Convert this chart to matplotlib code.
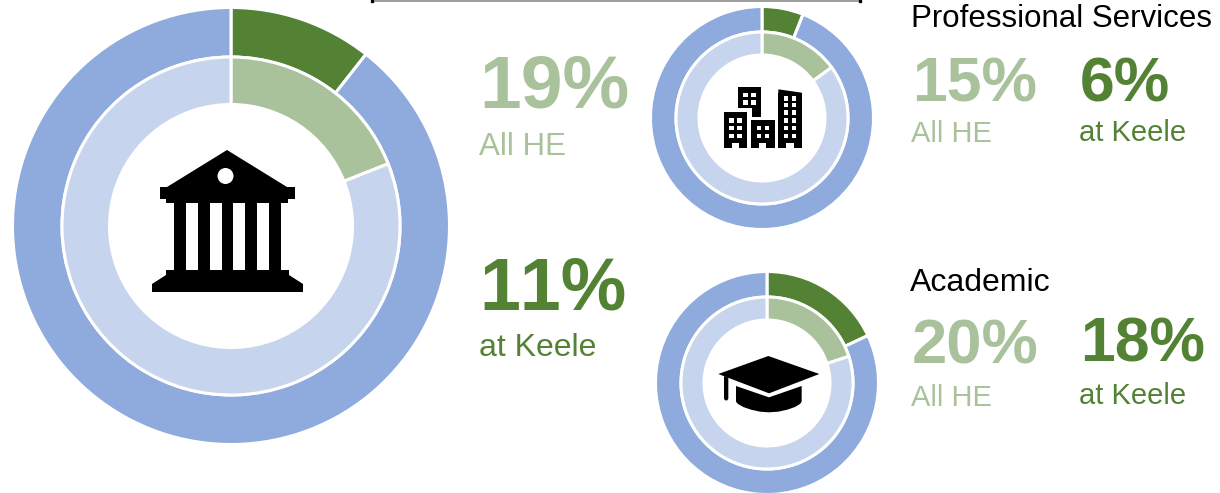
import matplotlib
matplotlib.use("Agg")
import matplotlib.pyplot as plt
from matplotlib.patches import Polygon, Circle, Rectangle

W, H = 1220, 493

# share of staff, percent (wedge sizes as drawn, first is Keele, second is all HE)
overall = [10.6, 19]
professional = [6, 15]
academic = [18, 20]

dark_green = "#548235"
light_green = "#A9C29B"
dark_blue = "#8FAADC"
light_blue = "#C7D4ED"

plt.rcParams["font.family"] = ["Liberation Sans", "DejaVu Sans"]
plt.rcParams["text.kerning_factor"] = 6

fig = plt.figure(figsize=(W / 100, H / 100), dpi=100)
ax = fig.add_axes([0, 0, 1, 1])


def flip(points):
  # icons are traced in picture pixels, y going down
  return [(x, H - y) for x, y in points]


def poly(points, color="black"):
  ax.add_patch(Polygon(flip(points), closed=True, facecolor=color, edgecolor="none", zorder=5))


def rect(x0, y0, x1, y1, color="black"):
  ax.add_patch(Rectangle((x0, H - y1), x1 - x0, y1 - y0, facecolor=color, edgecolor="none", zorder=6))


def donut(cx, cy, r_out, r_mid, r_in, vals, lw):
  wp = dict(edgecolor="white", linewidth=lw)
  keele, all_he = vals
  ax.pie([keele, 100 - keele], colors=[dark_green, dark_blue], center=(cx, H - cy), radius=r_out,
         startangle=90, counterclock=False, wedgeprops=dict(width=r_out - r_mid, **wp))
  ax.pie([all_he, 100 - all_he], colors=[light_green, light_blue], center=(cx, H - cy), radius=r_mid,
         startangle=90, counterclock=False, wedgeprops=dict(width=r_mid - r_in, **wp))


def label(x, y, s, color, size, bold=False):
  ax.text(x, H - y, s, color=color, fontsize=size, fontweight="bold" if bold else "normal",
          ha="left", va="baseline")


def bank():
  poly([(227, 150), (287, 187), (295, 187), (295, 199), (288, 199), (288, 203), (166, 203),
        (166, 199), (160, 199), (160, 187), (167, 187)])
  ax.add_patch(Circle((225.5, H - 176), 8, facecolor="white", edgecolor="none", zorder=6))
  for x0, x1 in [(174, 186), (198, 210), (222, 233), (245, 257), (269, 281)]:
    rect(x0, 203, x1, 271)
  poly([(166, 270), (289, 270), (289, 275), (303, 284), (303, 292), (152, 292), (152, 284), (166, 275)])


def buildings():
  def z(x, y):
    return (700 + x / 3, 70 + y / 3)

  def block(x0, y0, x1, y1, cols, rows, door):
    poly([z(x0, y0), z(x1, y0), z(x1, y1), z(door + 11, y1), z(door + 11, y1 - 15),
          z(door - 11, y1 - 15), z(door - 11, y1), z(x0, y1)])
    for wy in rows:
      for wx in cols:
        rect(*z(wx - 7, wy - 7), *z(wx + 7, wy + 7), color="white")

  poly([z(113, 52), z(183, 52), z(183, 140), z(155, 140), z(155, 115), z(113, 115)])
  for wy in (75, 98):
    for wx in (136, 160):
      rect(*z(wx - 7, wy - 7), *z(wx + 7, wy + 7), color="white")
  block(72, 127, 142, 233, (95, 119), (151, 174, 198), 107)
  block(153, 150, 224, 233, (177, 201), (174, 198), 188)
  block(235, 70, 305, 233, (258, 282), (85, 105, 128, 151, 174, 198), 270)
  poly([z(235, 58), z(305, 68), z(305, 72), z(235, 72)])


def cap():
  def z(x, y):
    return (700 + x / 3, 340 + y / 3)

  poly([z(55, 102), z(205, 48), z(358, 102), z(207, 160)])
  poly([z(72, 108), z(85, 113), z(85, 176), z(82, 181), z(75, 181), z(72, 176)])
  poly([z(108, 138), z(207, 172), z(305, 138), z(305, 185), z(300, 192), z(285, 201), z(262, 209),
        z(235, 215), z(207, 217), z(180, 215), z(153, 209), z(130, 201), z(114, 192), z(108, 185)])


donut(231, 226, 218.5, 169, 121.5, overall, 2.2)
donut(762, 118, 111.5, 86, 63, professional, 2.2)
donut(767, 383, 111.5, 86, 63, academic, 2.2)

bank()
buildings()
cap()

label(479, 108, "19%", light_green, 54, True)
label(479, 155, "All HE", light_green, 22.5)
label(479, 310, "11%", dark_green, 53, True)
label(479, 356, "at Keele", dark_green, 23)

label(911, 27, "Professional Services", "black", 22.5)
label(912, 101, "15%", light_green, 45, True)
label(1080, 101, "6%", dark_green, 45, True)
label(911, 142, "All HE", light_green, 21)
label(1079, 141, "at Keele", dark_green, 21)

label(910, 291, "Academic", "black", 23)
label(912, 363, "20%", light_green, 45.5, True)
label(1080, 361, "18%", dark_green, 45, True)
label(911, 406, "All HE", light_green, 21)
label(1079, 404, "at Keele", dark_green, 21)

# stray rule along the top edge of the original slide
ax.plot([372, 860], [H - 0.5, H - 0.5], color="#8c8c8c", linewidth=1.2)
ax.plot([372, 860], [H - 0.5, H - 0.5], color="black", linestyle="none", marker="s", markersize=1.5)

ax.set_xlim(0, W)
ax.set_ylim(0, H)
ax.set_aspect("equal")
ax.axis("off")

fig.savefig("out.png", dpi=100)
